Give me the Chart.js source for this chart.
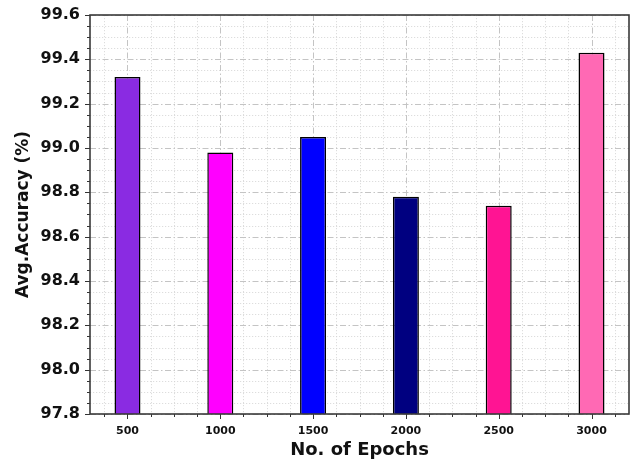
<!DOCTYPE html>
<html>
<head>
<meta charset="utf-8">
<script src="https://cdn.jsdelivr.net/npm/chart.js@4/dist/chart.umd.min.js"></script>
<style>
  body { margin: 0; background: #fff; }
  #wrap { width: 636px; height: 462px; }
</style>
</head>
<body>
<div id="wrap"><canvas id="acc-chart"></canvas></div>
<script>
const epochs = [500, 1000, 1500, 2000, 2500, 3000];
const avgAccuracy = [99.32, 98.98, 99.05, 98.78, 98.74, 99.43];
const barColors = ['#8A2BE2', '#FF00FF', '#0000FF', '#000080', '#FF1493', '#FF69B4'];
const yMajorTicks = [97.8, 98.0, 98.2, 98.4, 98.6, 98.8, 99.0, 99.2, 99.4, 99.6];
const xMinorTicks = [375, 500, 625, 750, 875, 1000, 1125, 1250, 1375, 1500, 1625, 1750, 1875,
  2000, 2125, 2250, 2375, 2500, 2625, 2750, 2875, 3000, 3125];

// y minor ticks: 4 per major interval
const yMinorTicks = [];
for (let i = 0; i < yMajorTicks.length - 1; i++) {
  const a = yMajorTicks[i], b = yMajorTicks[i + 1];
  for (let k = 0; k < 4; k++) yMinorTicks.push(+(a + (b - a) * k / 4).toFixed(3));
}
yMinorTicks.push(yMajorTicks[yMajorTicks.length - 1]);

const isMajorY = v => yMajorTicks.some(t => Math.abs(t - v) < 1e-6);
const isMajorX = v => epochs.includes(v);

const gridPlugin = {
  id: 'mplGrid',
  beforeDatasetsDraw(chart) {
    const {ctx, chartArea: a, scales: {x, y}} = chart;
    ctx.save();
    ctx.lineWidth = 0.8;
    // minor dotted
    ctx.strokeStyle = '#d4d4d4';
    ctx.setLineDash([1.2, 1.8]);
    yMinorTicks.filter(v => !isMajorY(v)).forEach(v => {
      const p = Math.round(y.getPixelForValue(v)) + 0.5;
      ctx.beginPath(); ctx.moveTo(a.left, p); ctx.lineTo(a.right, p); ctx.stroke();
    });
    xMinorTicks.filter(v => !isMajorX(v)).forEach(v => {
      const p = Math.round(x.getPixelForValue(v)) + 0.5;
      ctx.beginPath(); ctx.moveTo(p, a.top); ctx.lineTo(p, a.bottom); ctx.stroke();
    });
    // major dash-dot
    ctx.strokeStyle = '#c4c4c4';
    ctx.lineWidth = 1;
    ctx.setLineDash([6, 2.5, 1.5, 2.5]);
    yMajorTicks.forEach(v => {
      const p = Math.round(y.getPixelForValue(v)) + 0.5;
      ctx.beginPath(); ctx.moveTo(a.left, p); ctx.lineTo(a.right, p); ctx.stroke();
    });
    epochs.forEach(v => {
      const p = Math.round(x.getPixelForValue(v)) + 0.5;
      ctx.beginPath(); ctx.moveTo(p, a.top); ctx.lineTo(p, a.bottom); ctx.stroke();
    });
    ctx.restore();
  },
  afterDatasetsDraw(chart) {
    const {ctx, chartArea: a, scales: {x, y}} = chart;
    ctx.save();
    ctx.setLineDash([]);
    ctx.strokeStyle = '#333';
    ctx.lineWidth = 1;
    // tick marks
    yMinorTicks.forEach(v => {
      const p = Math.round(y.getPixelForValue(v)) + 0.5;
      const len = isMajorY(v) ? 5 : 3;
      ctx.beginPath(); ctx.moveTo(a.left - len, p); ctx.lineTo(a.left, p); ctx.stroke();
    });
    xMinorTicks.forEach(v => {
      const p = Math.round(x.getPixelForValue(v)) + 0.5;
      const len = isMajorX(v) ? 5 : 3;
      ctx.beginPath(); ctx.moveTo(p, a.bottom); ctx.lineTo(p, a.bottom + len); ctx.stroke();
    });
    // frame
    ctx.lineWidth = 1.6;
    ctx.strokeStyle = '#3a3a3a';
    ctx.strokeRect(a.left, a.top, a.right - a.left, a.bottom - a.top);
    ctx.restore();
  }
};

new Chart(document.querySelector('#acc-chart').getContext('2d'), {
  type: 'bar',
  data: {
    datasets: [{
      label: 'Avg.Accuracy',
      data: epochs.map((e, i) => ({x: e, y: avgAccuracy[i]})),
      backgroundColor: barColors,
      borderColor: '#000',
      borderWidth: 1.5,
      borderSkipped: false,
      categoryPercentage: 1,
      barPercentage: 0.28
    }]
  },
  options: {
    responsive: true,
    maintainAspectRatio: false,
    animation: false,
    layout: { padding: { left: 0, right: 7, top: 15, bottom: 0 } },
    plugins: { legend: { display: false }, tooltip: { enabled: false } },
    scales: {
      x: {
        type: 'linear',
        offset: false,
        min: 298,
        max: 3202,
        afterBuildTicks: s => { s.ticks = epochs.map(v => ({value: v})); },
        afterFit: s => { s.height = 48; },
        grid: { display: false, drawTicks: false, offset: false },
        border: { display: false },
        ticks: {
          autoSkip: false,
          maxRotation: 0,
          padding: 11,
          color: '#111',
          font: { family: 'DejaVu Sans', size: 11, weight: 'bold' },
          callback: v => String(v)
        },
        title: {
          display: true,
          text: 'No. of Epochs',
          color: '#111',
          padding: { top: 0, bottom: 0.5 },
          font: { family: 'DejaVu Sans', size: 18, weight: 'bold' }
        }
      },
      y: {
        min: 97.8,
        max: 99.6,
        afterBuildTicks: s => { s.ticks = yMajorTicks.map(v => ({value: v})); },
        afterFit: s => { s.width = 90; },
        grid: { display: false, drawTicks: true, tickLength: 10 },
        border: { display: false },
        ticks: {
          autoSkip: false,
          padding: 0,
          color: '#111',
          font: { family: 'DejaVu Sans', size: 16, weight: 'bold' },
          callback: v => v.toFixed(1)
        },
        title: {
          display: true,
          text: 'Avg.Accuracy (%)',
          color: '#111',
          padding: { top: 13, bottom: 0 },
          font: { family: 'DejaVu Sans', size: 17, weight: 'bold' }
        }
      }
    }
  },
  plugins: [gridPlugin]
});
</script>
</body>
</html>
